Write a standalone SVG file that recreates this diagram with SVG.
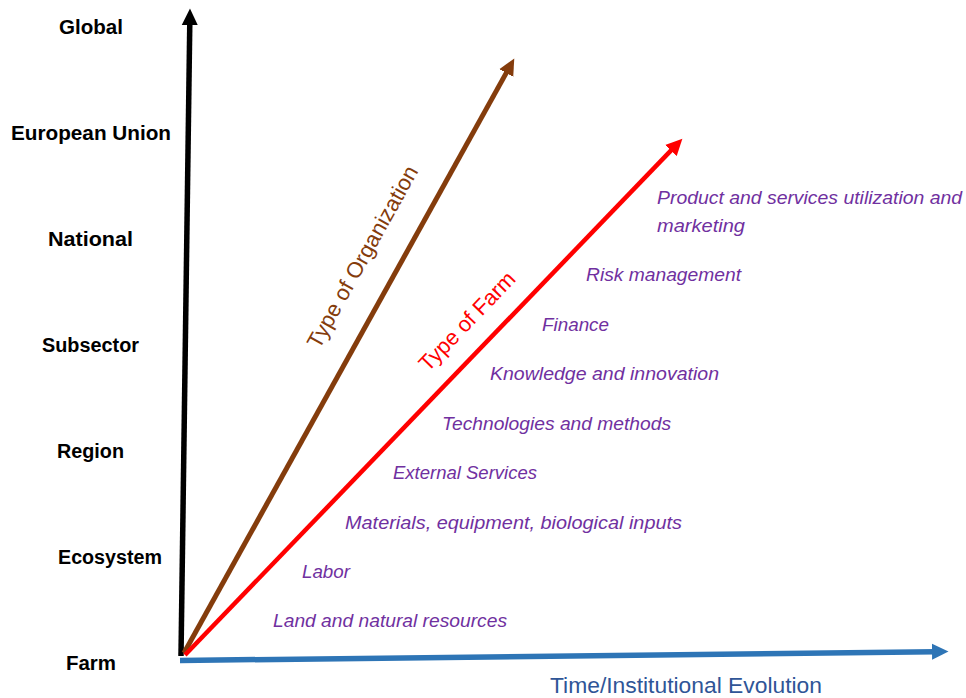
<svg xmlns="http://www.w3.org/2000/svg" width="966" height="698" viewBox="0 0 966 698">
  <style>
    .lvl { font-family: "Liberation Sans", Arial, sans-serif; font-weight: bold; font-size: 20px; fill: #000000; }
    .itm { font-family: "Liberation Sans", Arial, sans-serif; font-style: italic; font-size: 18.5px; fill: #7030A0; }
    .axl { font-family: "Liberation Sans", Arial, sans-serif; font-size: 22px; }
  </style>
  <defs>
    <marker id="headBlack" markerUnits="userSpaceOnUse" markerWidth="17" markerHeight="17" viewBox="0 0 17 17" refX="3" refY="8.5" orient="auto">
      <path d="M0,0.5 L16.5,8.5 L0,16.5 z" fill="#000000"/>
    </marker>
    <marker id="headBrown" markerUnits="userSpaceOnUse" markerWidth="17" markerHeight="17" viewBox="0 0 17 17" refX="3" refY="8.5" orient="auto">
      <path d="M0,0.5 L16.5,8.5 L0,16.5 z" fill="#843C0C"/>
    </marker>
    <marker id="headRed" markerUnits="userSpaceOnUse" markerWidth="17" markerHeight="17" viewBox="0 0 17 17" refX="3" refY="8.5" orient="auto">
      <path d="M0,0.5 L16.5,8.5 L0,16.5 z" fill="#FF0000"/>
    </marker>
    <marker id="headBlue" markerUnits="userSpaceOnUse" markerWidth="17" markerHeight="17" viewBox="0 0 17 17" refX="3" refY="8.5" orient="auto">
      <path d="M0,0.5 L16.5,8.5 L0,16.5 z" fill="#2E75B6"/>
    </marker>
  </defs>
  <rect width="966" height="698" fill="#ffffff"/>

  <g id="connectors" fill="none">
    <line id="axis-level" x1="181" y1="656" x2="189.8" y2="22" stroke="#000000" stroke-width="5.5" marker-end="url(#headBlack)"/>
    <line id="axis-organization" x1="184" y1="653" x2="507.7" y2="70.4" stroke="#843C0C" stroke-width="5" marker-end="url(#headBrown)"/>
    <line id="axis-farm" x1="185" y1="655" x2="673" y2="148.4" stroke="#FF0000" stroke-width="4.5" marker-end="url(#headRed)"/>
    <line id="axis-time" x1="180" y1="660.5" x2="935" y2="651.7" stroke="#2E75B6" stroke-width="5.5" marker-end="url(#headBlue)"/>
  </g>

  <g id="levels">
    <g id="lvl-global"><text class="lvl" x="59" y="34" textLength="64" lengthAdjust="spacingAndGlyphs">Global</text></g>
    <g id="lvl-eu"><text class="lvl" x="11" y="140" textLength="160" lengthAdjust="spacingAndGlyphs">European Union</text></g>
    <g id="lvl-national"><text class="lvl" x="48" y="246" textLength="85" lengthAdjust="spacingAndGlyphs">National</text></g>
    <g id="lvl-subsector"><text class="lvl" x="42" y="352" textLength="97" lengthAdjust="spacingAndGlyphs">Subsector</text></g>
    <g id="lvl-region"><text class="lvl" x="57" y="458" textLength="67" lengthAdjust="spacingAndGlyphs">Region</text></g>
    <g id="lvl-ecosystem"><text class="lvl" x="58" y="564" textLength="104" lengthAdjust="spacingAndGlyphs">Ecosystem</text></g>
    <g id="lvl-farm"><text class="lvl" x="66" y="670" textLength="50" lengthAdjust="spacingAndGlyphs">Farm</text></g>
  </g>

  <g id="items">
    <g id="item-product">
      <text class="itm" x="657" y="204" textLength="305" lengthAdjust="spacingAndGlyphs">Product and services utilization and</text>
      <text class="itm" x="657" y="232" textLength="88" lengthAdjust="spacingAndGlyphs">marketing</text>
    </g>
    <g id="item-risk"><text class="itm" x="586" y="281" textLength="155" lengthAdjust="spacingAndGlyphs">Risk management</text></g>
    <g id="item-finance"><text class="itm" x="542" y="331" textLength="67" lengthAdjust="spacingAndGlyphs">Finance</text></g>
    <g id="item-knowledge"><text class="itm" x="490" y="380" textLength="229" lengthAdjust="spacingAndGlyphs">Knowledge and innovation</text></g>
    <g id="item-technologies"><text class="itm" x="442" y="430" textLength="229" lengthAdjust="spacingAndGlyphs">Technologies and methods</text></g>
    <g id="item-external"><text class="itm" x="393" y="479" textLength="144" lengthAdjust="spacingAndGlyphs">External Services</text></g>
    <g id="item-materials"><text class="itm" x="345" y="529" textLength="337" lengthAdjust="spacingAndGlyphs">Materials, equipment, biological inputs</text></g>
    <g id="item-labor"><text class="itm" x="302" y="578" textLength="48" lengthAdjust="spacingAndGlyphs">Labor</text></g>
    <g id="item-land"><text class="itm" x="273" y="627" textLength="234" lengthAdjust="spacingAndGlyphs">Land and natural resources</text></g>
  </g>

  <g id="axis-labels">
    <g id="label-organization">
      <text class="axl" fill="#843C0C" text-anchor="middle" transform="translate(369,260.5) rotate(-60.9)" x="0" y="0" textLength="205" lengthAdjust="spacingAndGlyphs">Type of Organization</text>
    </g>
    <g id="label-farm">
      <text class="axl" fill="#FF0000" text-anchor="middle" transform="translate(472.5,326.3) rotate(-46.1)" x="0" y="0" textLength="128" lengthAdjust="spacingAndGlyphs">Type of Farm</text>
    </g>
    <g id="label-time">
      <text class="axl" fill="#2F5597" x="550" y="693" textLength="272" lengthAdjust="spacingAndGlyphs">Time/Institutional Evolution</text>
    </g>
  </g>
</svg>
